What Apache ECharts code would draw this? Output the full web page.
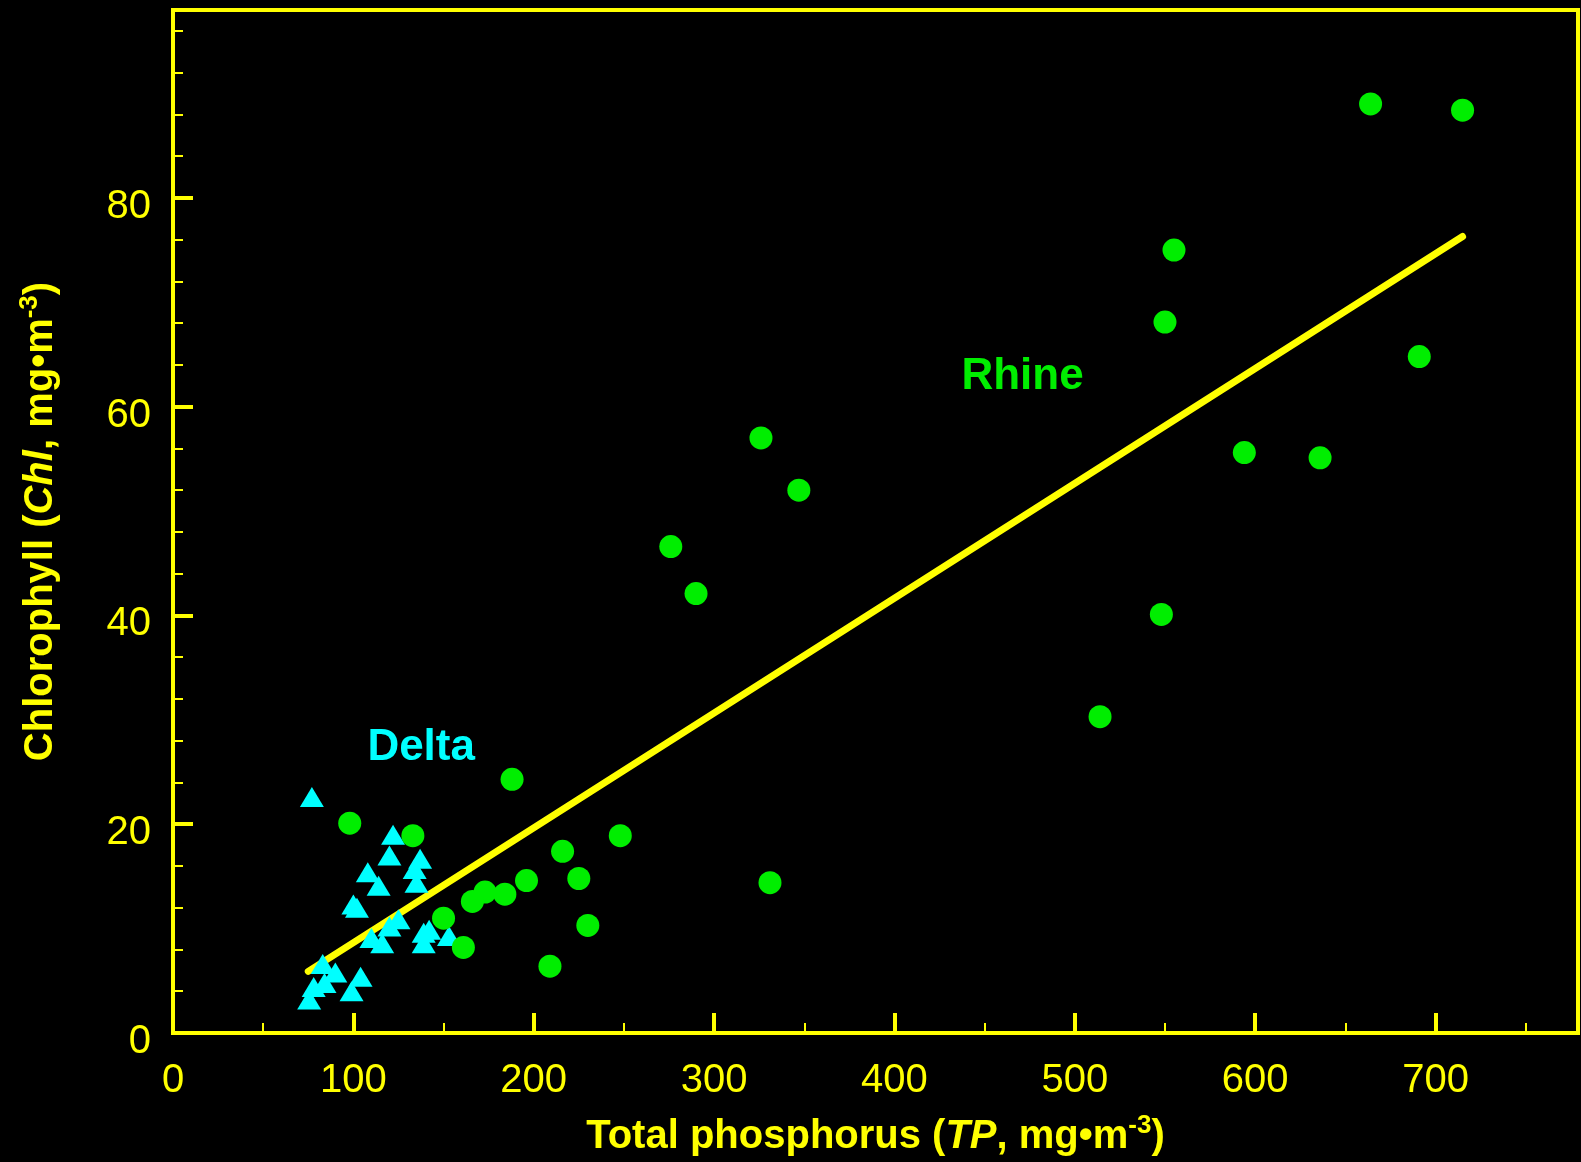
<!DOCTYPE html>
<html lang="en">
<head>
    <meta charset="utf-8">
    <title>Chlorophyll vs total phosphorus</title>
    <script type="text/javascript" src="https://cdn.jsdelivr.net/npm/echarts@6/dist/echarts.min.js"></script>
    <style>
        html, body {margin: 0; padding: 0; background: #000;}
        #chart {width: 1581px; height: 1162px;}
    </style>
</head>
<body>
<div id="chart"></div>
<script type="text/javascript">
    // Rhine stations (circles)
    var rhineTP = [98, 133, 188, 216, 248, 225, 196, 173, 166, 184, 150, 161, 209, 230,
        276, 290, 326, 347, 331, 514, 548, 550, 555, 594, 636, 691, 664, 715];
    var rhineChl = [20.1, 18.9, 24.3, 17.4, 18.9, 14.8, 14.6, 13.5, 12.6, 13.3, 11.0, 8.2, 6.4, 10.3,
        46.6, 42.1, 57.0, 52.0, 14.4, 30.3, 40.1, 68.1, 75.0, 55.6, 55.1, 64.8, 89.0, 88.4];

    // Delta stations (triangles)
    var deltaTP = [77, 122, 120, 137, 108, 114, 134, 135, 100, 102, 125, 120, 110, 116,
        142, 139, 139, 153, 83, 90, 84, 78, 75.5, 104, 99];
    var deltaChl = [22.6, 19.0, 17.0, 16.7, 15.4, 14.1, 15.7, 14.4, 12.3, 12.0, 10.9, 10.2, 9.1, 8.6,
        9.9, 9.6, 8.6, 9.3, 6.6, 5.8, 4.8, 4.4, 3.2, 5.4, 4.0];

    // regression line end points
    var fitTP = [75, 715];
    var fitChl = [5.9, 76.3];

    var xTicks = [0, 100, 200, 300, 400, 500, 600, 700];
    var yTicks = [0, 20, 40, 60, 80];

    function pairs(xs, ys) {
        return xs.map(function (x, i) { return [x, ys[i]]; });
    }

    var YELLOW = '#ffff00';
    var GREEN = '#00ee00';
    var CYAN = '#00ffff';
    var FONT = 'Liberation Sans, Arial, sans-serif';

    var nameRich = {
        i: {color: YELLOW, fontSize: 40, fontWeight: 'bold', fontStyle: 'italic', fontFamily: FONT},
        sup: {color: YELLOW, fontSize: 26, fontWeight: 'bold', fontFamily: FONT, padding: [0, 0, 22, 0]}
    };

    var chart = echarts.init(document.getElementById('chart'));

    var option = {
        backgroundColor: '#000',
        animation: false,
        grid: {
            left: 173, top: 10, right: 3, bottom: 129,
            show: true, borderColor: YELLOW, borderWidth: 4
        },
        xAxis: [{
            type: 'value', min: 0, max: 779, interval: 100,
            axisLine: {show: true, lineStyle: {color: YELLOW, width: 4}},
            axisTick: {inside: true, length: 20, lineStyle: {color: YELLOW, width: 4}},
            axisLabel: {
                color: YELLOW, fontSize: 40, fontFamily: FONT, margin: 28,
                formatter: function (v) { return xTicks.indexOf(v) >= 0 ? String(v) : ''; }
            },
            splitLine: {show: false},
            name: 'Total phosphorus ({i|TP}, mg\u2022m{sup|-3})',
            nameLocation: 'middle', nameGap: 80,
            nameTextStyle: {
                color: YELLOW, fontSize: 40, fontWeight: 'bold', fontFamily: FONT,
                rich: nameRich
            }
        }, {
            // minor ticks every 50
            type: 'value', min: 0, max: 779, interval: 50, position: 'bottom',
            axisLine: {show: false},
            axisTick: {inside: true, length: 10, lineStyle: {color: YELLOW, width: 2}},
            axisLabel: {show: false},
            splitLine: {show: false}
        }],
        yAxis: [{
            type: 'value', min: 0, max: 98, interval: 20,
            axisLine: {show: true, lineStyle: {color: YELLOW, width: 4}},
            axisTick: {inside: true, length: 20, lineStyle: {color: YELLOW, width: 4}},
            axisLabel: {
                color: YELLOW, fontSize: 40, fontFamily: FONT, margin: 22,
                formatter: function (v) { return yTicks.indexOf(v) >= 0 ? '{v|' + v + '}' : ''; },
                rich: {
                    v: {color: YELLOW, fontSize: 40, fontFamily: FONT, padding: [18, 0, 0, 0]}
                }
            },
            splitLine: {show: false},
            name: 'Chlorophyll ({i|Chl}, mg\u2022m{sup|-3})',
            nameLocation: 'middle', nameGap: 108, nameRotate: 90,
            nameTextStyle: {
                color: YELLOW, fontSize: 40, fontWeight: 'bold', fontFamily: FONT,
                rich: nameRich
            }
        }, {
            // minor ticks every 4
            type: 'value', min: 0, max: 98, interval: 4, position: 'left',
            axisLine: {show: false},
            axisTick: {inside: true, length: 10, lineStyle: {color: YELLOW, width: 2}},
            axisLabel: {show: false},
            splitLine: {show: false}
        }],
        series: [
            {
                name: 'fit', type: 'line', data: pairs(fitTP, fitChl),
                symbol: 'none', z: 1,
                lineStyle: {color: YELLOW, width: 7, cap: 'round'}
            },
            {
                name: 'Delta', type: 'scatter', data: pairs(deltaTP, deltaChl),
                symbol: 'triangle', symbolSize: [24, 20], z: 2,
                itemStyle: {color: CYAN, opacity: 1}
            },
            {
                name: 'Rhine', type: 'scatter', data: pairs(rhineTP, rhineChl),
                symbol: 'circle', symbolSize: 23, z: 3,
                itemStyle: {color: GREEN, opacity: 1}
            },
            {
                // group labels
                type: 'scatter', silent: true, symbolSize: 0, z: 4,
                itemStyle: {opacity: 1},
                data: [
                    {value: [471, 62.9], label: {formatter: 'Rhine', color: GREEN}},
                    {value: [137.6, 27.3], label: {formatter: 'Delta', color: CYAN}}
                ],
                label: {show: true, position: 'inside', fontSize: 44, fontWeight: 'bold', fontFamily: FONT}
            }
        ]
    };

    chart.setOption(option);
</script>
</body>
</html>
